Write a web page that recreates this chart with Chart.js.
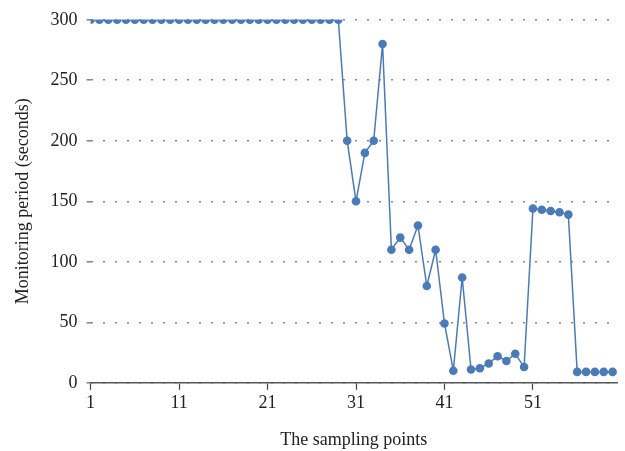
<!DOCTYPE html>
<html>
<head>
<meta charset="utf-8">
<script src="https://cdn.jsdelivr.net/npm/chart.js@4"></script>
<style>
  body { margin: 0; background: #fff; }
  #wrap { width: 625px; height: 451px; }
</style>
</head>
<body>
<div id="wrap"><canvas id="myChart" width="625" height="451"></canvas></div>
<script>
// sampling points 1..60
const points = [];
for (let i = 1; i <= 60; i++) points.push(i);

// monitoring period (seconds)
const periods = [
  300, 300, 300, 300, 300, 300, 300, 300, 300, 300,
  300, 300, 300, 300, 300, 300, 300, 300, 300, 300,
  300, 300, 300, 300, 300, 300, 300, 300, 300, 200,
  150, 190, 200, 280, 110, 120, 110, 130, 80, 110,
  49, 10, 87, 11, 12, 16, 22, 18, 24, 13,
  144, 143, 142, 141, 139, 9, 9, 9, 9, 9
];

const xTicks = [1, 11, 21, 31, 41, 51];
const yTicks = [0, 50, 100, 150, 200, 250, 300];

const blue = '#4a7ab8';
const font = { family: '"Liberation Serif", "DejaVu Serif", serif', size: 18 };

const ctx = document.getElementById('myChart').getContext('2d');
const myChart = new Chart(ctx, {
  type: 'line',
  data: {
    datasets: [{
      data: points.map((p, i) => ({ x: p, y: periods[i] })),
      borderColor: blue,
      backgroundColor: blue,
      borderWidth: 1.5,
      pointRadius: 4.3,
      pointBorderWidth: 0,
      tension: 0
    }]
  },
  options: {
    responsive: false,
    animation: false,
    layout: { padding: { top: 12, right: 8, left: 12, bottom: 0 } },
    plugins: { legend: { display: false }, tooltip: { enabled: false } },
    scales: {
      x: {
        type: 'linear',
        min: 1,
        max: 60.5,
        afterBuildTicks: axis => { axis.ticks = xTicks.map(v => ({ value: v })); },
        ticks: { color: '#222', font: font, padding: 3, maxRotation: 0 },
        grid: { drawOnChartArea: false, tickLength: 7, color: '#444', tickWidth: 1.2 },
        border: { color: '#555', width: 1.5 },
        title: { display: true, text: 'The sampling points', color: '#222', font: font, padding: { top: 12, bottom: 0 } }
      },
      y: {
        min: 0,
        max: 300,
        afterBuildTicks: axis => { axis.ticks = yTicks.map(v => ({ value: v })); },
        ticks: { color: '#222', font: font, padding: 9 },
        grid: { color: '#888', lineWidth: 1.6, tickLength: 4 },
        border: { display: false, dash: [2, 10] },
        title: { display: true, text: 'Monitoring period (seconds)', color: '#222', font: font, padding: { top: 0, bottom: 8 } }
      }
    }
  }
});
</script>
</body>
</html>
